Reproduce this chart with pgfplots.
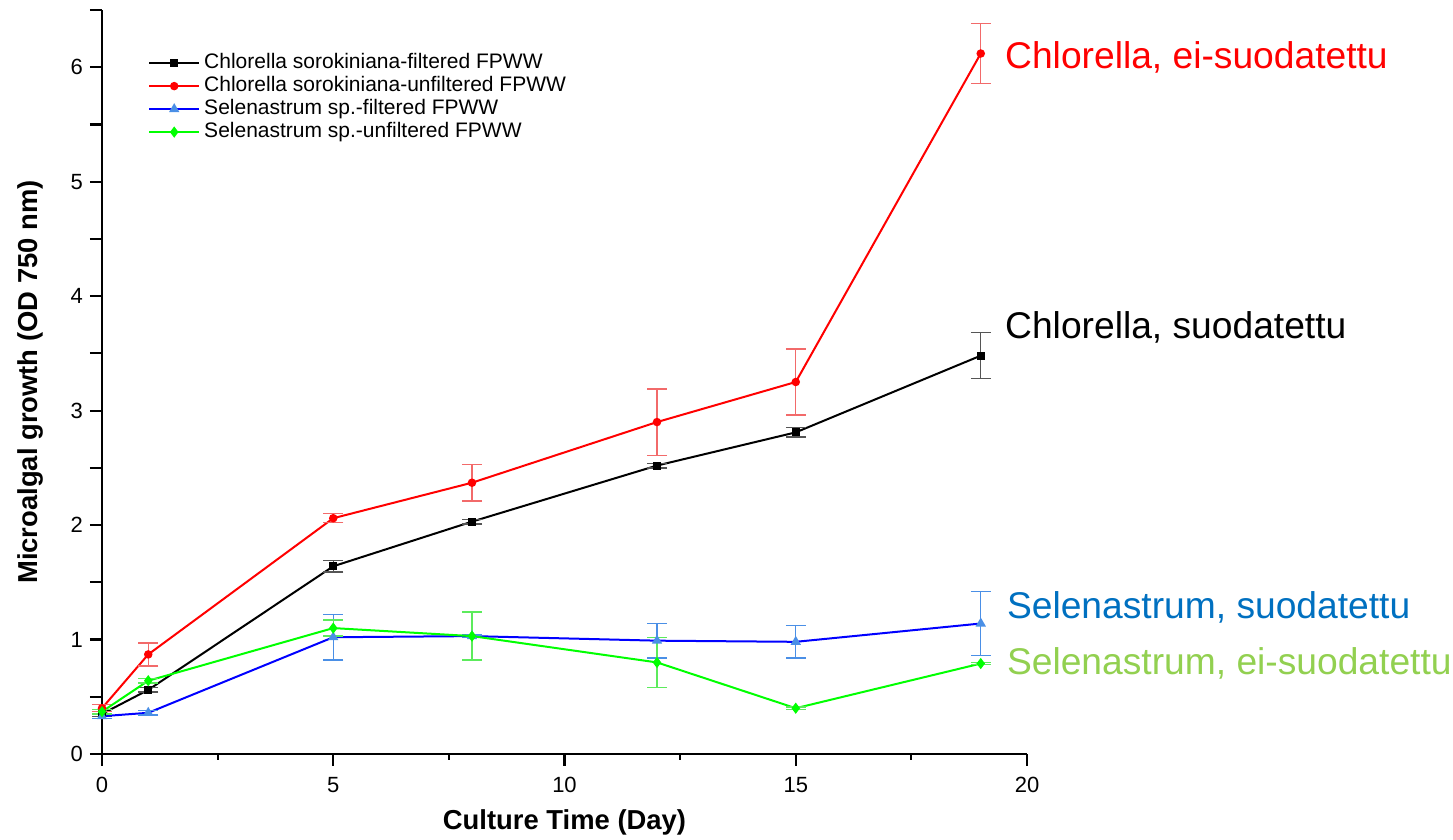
\documentclass[border=0pt]{standalone}
\usepackage{fontspec}
\setmainfont{Liberation Sans}
\usepackage{pgfplots}
\pgfplotsset{compat=1.18}
\definecolor{cred}{HTML}{FF0000}
\definecolor{cblue}{HTML}{0000FF}
\definecolor{cgreen}{HTML}{00FF00}
\definecolor{ered}{HTML}{F26A6A}
\definecolor{eblue}{HTML}{4A8FE6}
\definecolor{egreen}{HTML}{5CEB5C}
\definecolor{eblack}{HTML}{555555}
\definecolor{anblue}{HTML}{0070C0}
\definecolor{angreen}{HTML}{92D050}
\begin{document}
\begin{tikzpicture}
\useasboundingbox (-51pt,-43pt) rectangle (675.5pt,377pt);
\begin{axis}[
  at={(0,0)}, anchor=origin,
  scale only axis,
  width=462.5pt, height=372pt,
  xmin=0, xmax=20, ymin=0, ymax=6.5,
  clip=false,
  axis lines=left,
  axis line style={-, line width=1.3pt},
  tick align=outside,
  xtick={0,5,10,15,20},
  minor x tick num=1,
  ytick={0,0.5,1,1.5,2,2.5,3,3.5,4,4.5,5,5.5,6,6.5},
  yticklabels={0,,1,,2,,3,,4,,5,,6,},
  major tick length=6pt,
  minor tick length=3pt,
  every tick/.style={black, line width=1.1pt},
  /pgf/number format/assume math mode=true,
  tick label style={font=\fontsize{11}{13}\selectfont},
  xticklabel style={yshift=-2pt},
  label style={font=\fontsize{13.7}{16}\selectfont\bfseries},
  xlabel={Culture Time (Day)},
  ylabel={Microalgal growth (OD 750 nm)},
  xlabel style={at={(axis description cs:0.5,-0.0914)}, anchor=center},
  ylabel style={at={(axis description cs:-0.0778,0.5)}, anchor=center},
  legend cell align=left,
  legend image code/.code={\draw[mark repeat=2,mark phase=2] plot coordinates {(0cm,0cm) (0.44cm,0cm) (0.88cm,0cm)};},
  legend style={draw=none, fill=none, at={(rel axis cs:0.043,0.95)}, anchor=north west,
    font=\fontsize{10.5}{11}\selectfont, row sep=0pt,
    nodes={text height=8pt, text depth=2.5pt, inner ysep=0.5pt}},
]
\addplot[black, line width=1pt, mark=square*, mark size=1.5pt,
  error bars/.cd, y dir=both, y explicit,
  error bar style={eblack, line width=0.7pt},
  error mark options={rotate=90, mark size=5pt, eblack, line width=0.7pt}]
  table[x=x, y=y, y error=e] {
x y e
0 0.35 0.02
1 0.56 0.02
5 1.64 0.05
8 2.03 0.02
12 2.52 0.02
15 2.81 0.04
19 3.48 0.20
};
\addlegendentry{Chlorella sorokiniana-filtered FPWW}
\addplot[cred, line width=1pt, mark=*, mark size=1.6pt,
  error bars/.cd, y dir=both, y explicit,
  error bar style={ered, line width=0.7pt},
  error mark options={rotate=90, mark size=5pt, ered, line width=0.7pt}]
  table[x=x, y=y, y error=e] {
x y e
0 0.40 0.03
1 0.87 0.10
5 2.06 0.04
8 2.37 0.16
12 2.90 0.29
15 3.25 0.29
19 6.12 0.26
};
\addlegendentry{Chlorella sorokiniana-unfiltered FPWW}
\addplot[cblue, line width=1pt, mark=triangle*, mark size=2pt, mark options={fill=eblue, draw=eblue},
  error bars/.cd, y dir=both, y explicit,
  error bar style={eblue, line width=0.7pt},
  error mark options={rotate=90, mark size=5pt, eblue, line width=0.7pt}]
  table[x=x, y=y, y error=e] {
x y e
0 0.33 0.02
1 0.36 0.02
5 1.02 0.20
8 1.03 0.01
12 0.99 0.15
15 0.98 0.14
19 1.14 0.28
};
\addlegendentry{Selenastrum sp.-filtered FPWW}
\addplot[cgreen, line width=1pt, mark=diamond*, mark size=2pt,
  error bars/.cd, y dir=both, y explicit,
  error bar style={egreen, line width=0.7pt},
  error mark options={rotate=90, mark size=5pt, egreen, line width=0.7pt}]
  table[x=x, y=y, y error=e] {
x y e
0 0.37 0.02
1 0.64 0.02
5 1.10 0.07
8 1.03 0.21
12 0.80 0.22
15 0.40 0.01
19 0.79 0.01
};
\addlegendentry{Selenastrum sp.-unfiltered FPWW}
\node[anchor=west, inner sep=0pt, text=cred, font=\fontsize{18.6}{22}\selectfont] at (axis cs:19.52,6.09) {Chlorella, ei-suodatettu};
\node[anchor=west, inner sep=0pt, text=black, font=\fontsize{18.6}{22}\selectfont] at (axis cs:19.52,3.73) {Chlorella, suodatettu};
\node[anchor=west, inner sep=0pt, text=anblue, font=\fontsize{18.6}{22}\selectfont] at (axis cs:19.56,1.28) {Selenastrum, suodatettu};
\node[anchor=west, inner sep=0pt, text=angreen, font=\fontsize{18.6}{22}\selectfont] at (axis cs:19.56,0.79) {Selenastrum, ei-suodatettu};
\end{axis}
\end{tikzpicture}
\end{document}
